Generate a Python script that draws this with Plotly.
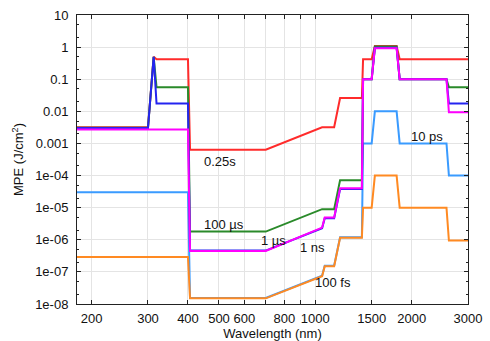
import math
import plotly.graph_objects as go

# Shared wavelength breakpoints (nm)
wavelength = [180, 300, 312.5, 319, 400, 406, 700, 1050, 1070, 1145, 1195,
              1398, 1410, 1500, 1535, 1795, 1835, 2570, 2615, 3000]

# MPE values (J/cm^2) for each exposure duration at the breakpoints above
mpe_025s = [3.2e-3, 3.2e-3, 0.5, 0.42, 0.42, 6.4e-4, 6.4e-4, 3.2e-3, 3.2e-3, 3.2e-3, 2.6e-2,
            2.6e-2, 0.42, 0.42, 1.08, 1.08, 0.42, 0.42, 0.42, 0.42]
mpe_100us = [3.1e-3, 3.1e-3, 0.5, 0.056, 0.056, 1.8e-6, 1.8e-6, 9.0e-6, 9.0e-6, 9.0e-6, 7.2e-5,
             7.2e-5, 0.1, 0.1, 1.05, 1.05, 0.1, 0.1, 0.056, 0.056]
mpe_1us = [3.0e-3, 3.0e-3, 0.5, 0.0175, 0.0175, 4.6e-7, 4.6e-7, 2.3e-6, 4.7e-6, 4.7e-6, 3.8e-5,
           3.8e-5, 0.1, 0.1, 0.95, 0.95, 0.1, 0.1, 0.0175, 0.0175]
mpe_1ns = [2.7e-3, 2.7e-3, 2.7e-3, 2.7e-3, 2.7e-3, 4.5e-7, 4.5e-7, 2.4e-6, 4.9e-6, 4.9e-6, 4.0e-5,
           4.0e-5, 0.1, 0.1, 0.92, 0.92, 0.1, 0.1, 0.0093, 0.0093]
mpe_10ps = [3.0e-5, 3.0e-5, 3.0e-5, 3.0e-5, 3.0e-5, 1.55e-8, 1.55e-8, 7.6e-8, 1.55e-7, 1.55e-7, 1.2e-6,
            1.2e-6, 1.0e-3, 1.0e-3, 1.0e-2, 1.0e-2, 1.0e-3, 1.0e-3, 1.0e-4, 1.0e-4]
mpe_100fs = [2.9e-7, 2.9e-7, 2.9e-7, 2.9e-7, 2.9e-7, 1.5e-8, 1.5e-8, 7.3e-8, 1.5e-7, 1.5e-7, 1.15e-6,
             1.15e-6, 1.0e-5, 1.0e-5, 1.0e-4, 1.0e-4, 1.0e-5, 1.0e-5, 9.5e-7, 9.5e-7]

# Curve labels: text, wavelength (nm), MPE (J/cm^2)
label_text = ["0.25s", "100 µs", "1 µs", "1 ns", "100 fs", "10 ps"]
label_wl = [504, 518, 738, 983, 1136, 2235]
label_mpe = [2.83e-4, 3.1e-6, 9.8e-7, 5.9e-7, 4.8e-8, 1.6e-3]

x_tickvals = [200, 300, 400, 500, 600, 800, 1000, 1500, 2000, 3000]
x_ticktext = ["200", "300", "400", "500", "600", "800", "1000", "1500", "2000", "3000"]
x_unlabeled = [700, 900]
y_tickvals = [10, 1, 0.1, 0.01, 0.001, 1e-4, 1e-5, 1e-6, 1e-7, 1e-8]
y_ticktext = ["10", "1", "0.1", "0.01", "0.001", "1e-04", "1e-05", "1e-06", "1e-07", "1e-08"]

series = [
    (mpe_10ps, "#3a9bff"),
    (mpe_100fs, "#ff8a22"),
    (mpe_025s, "#ff2b2b"),
    (mpe_100us, "#2a8a2a"),
    (mpe_1us, "#2424f0"),
    (mpe_1ns, "#ff00ff"),
]

fig = go.Figure()
for values, color in series:
    fig.add_trace(go.Scatter(x=wavelength, y=values, mode="lines",
                             line=dict(color=color, width=2), showlegend=False,
                             hoverinfo="skip"))

for text, wl, v in zip(label_text, label_wl, label_mpe):
    fig.add_annotation(x=math.log10(wl), y=math.log10(v), text=text, showarrow=False,
                       font=dict(size=13, color="#111111"))

grid_color = "#e4e4e4"
axis_common = dict(
    showline=True, linecolor="#222222", linewidth=1, mirror="ticks",
    ticks="inside", ticklen=4, tickcolor="#222222",
    showgrid=True, gridcolor=grid_color, gridwidth=1, zeroline=False,
    tickfont=dict(size=13, color="#111111"), automargin=False,
)

fig.update_xaxes(type="log", range=[math.log10(180), math.log10(3000)],
                 tickmode="array", tickvals=x_tickvals, ticktext=x_ticktext,
                 minor=dict(tickmode="array", tickvals=x_unlabeled, ticks="inside", ticklen=4,
                            tickcolor="#222222", showgrid=True, gridcolor=grid_color, gridwidth=1),
                 title=dict(text="Wavelength (nm)", font=dict(size=13, color="#111111"), standoff=6),
                 ticklabelstandoff=2, **axis_common)
fig.update_yaxes(type="log", range=[-8, 1],
                 tickmode="array", tickvals=y_tickvals, ticktext=y_ticktext,
                 minor=dict(ticks="inside", ticklen=2, dtick="D2", tickcolor="#222222", showgrid=False),
                 title=dict(text="MPE (J/cm<sup>2</sup>)", font=dict(size=13, color="#111111"), standoff=8),
                 ticklabelstandoff=5, **axis_common)

fig.update_layout(
    width=490, height=341,
    margin=dict(l=77, r=22, t=15, b=37, pad=0, autoexpand=False),
    paper_bgcolor="white", plot_bgcolor="white",
    font=dict(family="Liberation Sans, Arial, sans-serif", size=13, color="#111111"),
)

fig.write_html("out.html")
